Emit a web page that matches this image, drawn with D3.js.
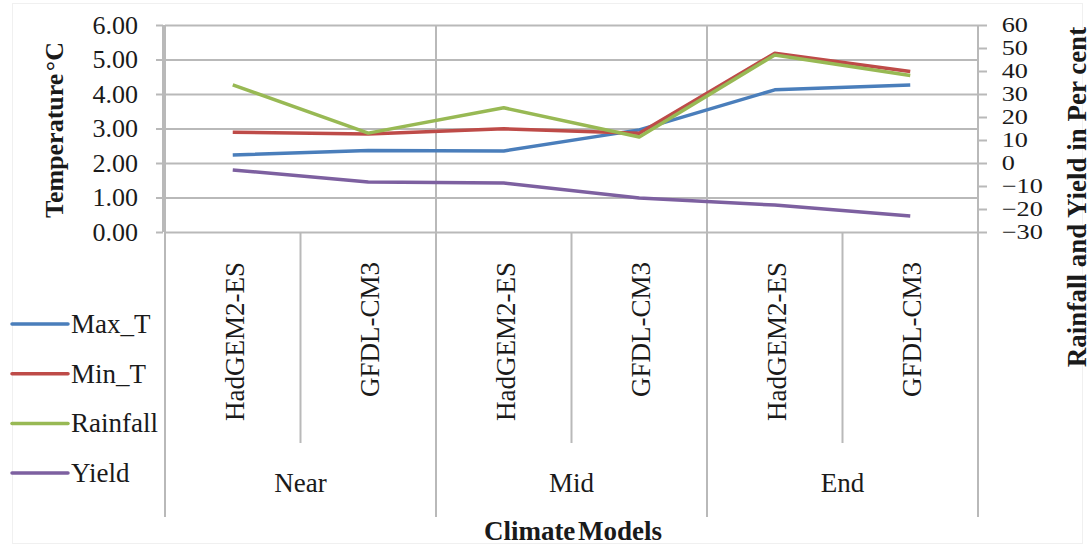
<!DOCTYPE html>
<html><head><meta charset="utf-8">
<script src="https://cdn.jsdelivr.net/npm/d3@7"></script>
<style>
html,body{margin:0;padding:0;background:#fff;}
svg text{font-family:"Liberation Serif","Times New Roman",serif;fill:#1a1a1a;}
</style></head>
<body><svg id="c" width="1091" height="546"></svg>
<script>
const periods = ["Near", "Mid", "End"];
const models = ["HadGEM2-ES", "GFDL-CM3"];
const categories = ["Near|HadGEM2-ES","Near|GFDL-CM3","Mid|HadGEM2-ES","Mid|GFDL-CM3","End|HadGEM2-ES","End|GFDL-CM3"];
const maxT = [2.23, 2.36, 2.35, 2.96, 4.12, 4.26];
const minT = [2.89, 2.84, 2.99, 2.86, 5.18, 4.65];
const rainfall = [34, 13, 24, 11.3, 47, 38];
const yieldPct = [-3, -8.3, -8.7, -15.2, -18.3, -23];
const leftTicks = [0, 1, 2, 3, 4, 5, 6];
const rightTicks = [60, 50, 40, 30, 20, 10, 0, -10, -20, -30];
const seriesNames = ["Max_T", "Min_T", "Rainfall", "Yield"];
const colors = ["#4a7ebb", "#be4b48", "#98b954", "#7d60a0"];

const svg = d3.select("#c");
const X0 = 165, X1 = 978, Y0 = 25, Y1 = 232;
const gridColor = "#b9b9b9";

// faint outer border
svg.append("rect").attr("x",12.5).attr("y",3.5).attr("width",1070).attr("height",540)
  .attr("fill","none").attr("stroke","#f0f0f0");

const x = d3.scaleBand().domain(categories).range([X0, X1]).padding(0);
const yL = d3.scaleLinear().domain([0, 6]).range([Y1, Y0]);
const yR = d3.scaleLinear().domain([-30, 60]).range([Y1, Y0]);

// gridlines
const grid = svg.append("g").attr("transform",`translate(${X0},0)`)
  .call(d3.axisLeft(yL).tickValues(leftTicks).tickSize(-(X1-X0)).tickFormat(""));
grid.select(".domain").remove();
grid.selectAll("line").attr("stroke",gridColor).attr("stroke-width",2);

// left axis
const gl = svg.append("g").attr("transform",`translate(${X0-2},0)`)
  .call(d3.axisLeft(yL).tickValues(leftTicks).tickSize(7).tickPadding(18).tickFormat(d3.format(".2f")));
gl.select(".domain").attr("stroke",gridColor).attr("stroke-width",2).attr("d",`M0,${Y0}V${Y1}`);
gl.selectAll("line").attr("stroke",gridColor).attr("stroke-width",2);
gl.selectAll("text").attr("font-size",26).style("font-family",'"Liberation Serif",serif').attr("fill","#1a1a1a");

// right axis
const gr = svg.append("g").attr("transform",`translate(${X1},0)`)
  .call(d3.axisRight(yR).tickValues(rightTicks).tickSize(9).tickPadding(14).tickFormat(d3.format("d")));
gr.select(".domain").attr("stroke",gridColor).attr("stroke-width",2).attr("d",`M0,${Y0}V512`);
gr.selectAll("line").attr("stroke",gridColor).attr("stroke-width",2);
gr.selectAll("text").attr("font-size",21).style("font-family",'"Liberation Serif",serif').attr("fill","#1a1a1a")
  .attr("transform","scale(1.25,1)").attr("x",19);

// category axis dividers
const bw = x.bandwidth();
const groupBounds = [0, 2, 4, 6].map(i => X0 + i*bw);
const subBounds = [1, 3, 5].map(i => X0 + i*bw);
svg.append("g").selectAll("line").data(groupBounds).join("line")
  .attr("x1",d=>d).attr("x2",d=>d).attr("y1",Y0).attr("y2",517)
  .attr("stroke",gridColor).attr("stroke-width",2);
svg.append("g").selectAll("line").data(subBounds).join("line")
  .attr("x1",d=>d).attr("x2",d=>d).attr("y1",Y1).attr("y2",443)
  .attr("stroke",gridColor).attr("stroke-width",2);

// model labels
svg.append("g").selectAll("text").data(categories).join("text")
  .attr("transform",d=>`translate(${x(d)+bw/2+2},262) rotate(-90)`)
  .attr("text-anchor","end").attr("dominant-baseline","central")
  .attr("font-size",27).text(d=>d.split("|")[1]);

// period labels
svg.append("g").selectAll("text").data(periods).join("text")
  .attr("x",(d,i)=>X0 + (2*i+1)*bw).attr("y",483)
  .attr("text-anchor","middle").attr("dominant-baseline","central")
  .attr("font-size",27).text(d=>d);

// axis titles
svg.append("text").attr("x",573).attr("y",531).attr("text-anchor","middle")
  .attr("dominant-baseline","central").attr("font-size",27).attr("font-weight","bold")
  .attr("word-spacing",-4).text("Climate Models");
svg.append("text").attr("transform","translate(54,130) rotate(-90)").attr("text-anchor","middle")
  .attr("dominant-baseline","central").attr("font-size",26).attr("font-weight","bold")
  .attr("word-spacing",-4).text("Temperature °C");
svg.append("text").attr("transform","translate(1077,197) rotate(-90)").attr("text-anchor","middle")
  .attr("dominant-baseline","central").attr("font-size",27).attr("font-weight","bold")
  .text("Rainfall and Yield in Per cent");

// lines
const data = [maxT, minT, rainfall, yieldPct];
const scales = [yL, yL, yR, yR];
const lineG = svg.append("g");
data.forEach((vals, s) => {
  const line = d3.line().x((d,i)=>x(categories[i])+bw/2).y(d=>scales[s](d));
  lineG.append("path").datum(vals).attr("d",line).attr("fill","none")
    .attr("stroke",colors[s]).attr("stroke-width",3.5).attr("stroke-linejoin","round");
});

// legend
const leg = svg.append("g");
seriesNames.forEach((n, i) => {
  const yy = 324 + i*49.7;
  leg.append("line").attr("x1",12).attr("x2",68).attr("y1",yy).attr("y2",yy)
    .attr("stroke",colors[i]).attr("stroke-width",3.5).attr("stroke-linecap","round");
  leg.append("text").attr("x",71).attr("y",yy).attr("dominant-baseline","central")
    .attr("font-size",27).text(n);
});
</script></body></html>
